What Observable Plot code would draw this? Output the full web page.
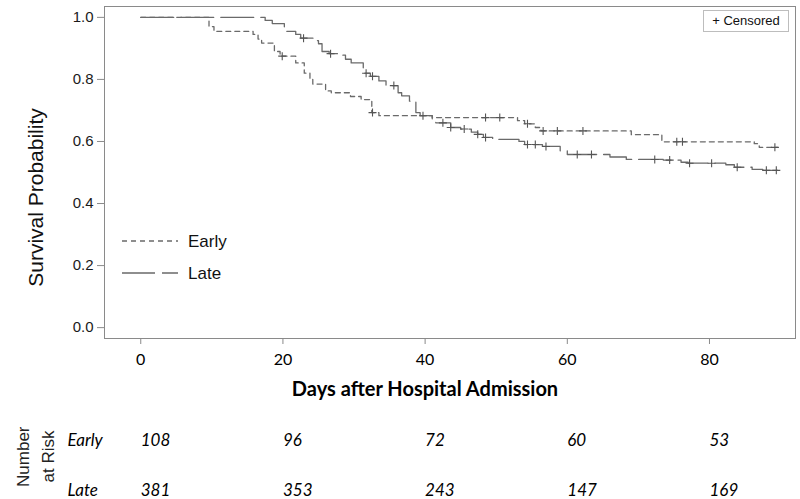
<!DOCTYPE html>
<html><head><meta charset="utf-8">
<script src="https://cdn.jsdelivr.net/npm/d3@7"></script>
<script src="https://cdn.jsdelivr.net/npm/@observablehq/plot@0.6"></script>
<style>
body{margin:0;background:#fff;}
#wrap{position:relative;width:800px;height:499px;overflow:hidden;background:#fff;}
#wrap svg{display:block;}
#cens{position:absolute;left:703px;top:10px;width:86px;height:22px;border:1px solid #bdbdbd;box-sizing:border-box;font:13px "Liberation Sans",Arial,sans-serif;color:#111;text-align:center;line-height:20px;}
#leg{position:absolute;left:118px;top:228px;}
</style></head><body><div id="wrap"></div>
<script>
// Kaplan–Meier step data (day, survival after event)
const earlyTime = [0, 9.6, 10.3, 15.8, 16.5, 17.0, 18.8, 19.6, 21.8, 23.0, 23.8, 24.2, 26.0, 26.8, 29.5, 31.0, 32.5, 33.5, 41.0, 53.0, 54.0, 55.5, 56.3, 69.0, 73.3, 86.3, 87.0, 89.6];
const earlySurv = [1.0, 0.97, 0.955, 0.945, 0.93, 0.917, 0.89, 0.875, 0.853, 0.82, 0.80, 0.785, 0.763, 0.757, 0.745, 0.735, 0.693, 0.683, 0.677, 0.667, 0.657, 0.645, 0.634, 0.622, 0.599, 0.593, 0.581, 0.581];
const lateTime = [0, 17.5, 18.5, 20.2, 21.8, 22.5, 24.5, 25.0, 25.5, 26.5, 27.8, 28.8, 29.6, 31.3, 32.3, 33.5, 34.5, 36.2, 36.7, 37.8, 38.7, 39.3, 41.0, 41.5, 43.6, 45.0, 46.5, 47.4, 48.2, 49.5, 53.2, 54.0, 56.5, 59.0, 60.0, 66.0, 68.3, 73.5, 76.0, 77.0, 82.3, 83.5, 86.0, 87.5, 89.6];
const lateSurv = [1.0, 0.99, 0.98, 0.955, 0.945, 0.933, 0.925, 0.915, 0.89, 0.883, 0.878, 0.865, 0.853, 0.82, 0.81, 0.795, 0.78, 0.757, 0.747, 0.73, 0.693, 0.683, 0.673, 0.66, 0.645, 0.64, 0.63, 0.623, 0.613, 0.607, 0.60, 0.59, 0.584, 0.57, 0.558, 0.55, 0.542, 0.54, 0.533, 0.53, 0.525, 0.517, 0.51, 0.507, 0.507];
// Censored observations
const earlyCensorTime = [19.9, 32.6, 48.5, 50.5, 54.4, 56.6, 58.6, 62.2, 75.4, 76.2, 89.2];
const earlyCensorSurv = [0.875, 0.693, 0.677, 0.677, 0.657, 0.634, 0.634, 0.634, 0.599, 0.599, 0.581];
const lateCensorTime = [22.9, 26.7, 31.7, 32.6, 35.6, 39.7, 42.5, 43.6, 45.5, 47.4, 48.5, 54.4, 55.5, 57.0, 61.4, 63.4, 72.3, 74.4, 77.2, 80.3, 83.9, 88.0, 89.4];
const lateCensorSurv = [0.933, 0.883, 0.82, 0.81, 0.78, 0.683, 0.66, 0.645, 0.64, 0.623, 0.613, 0.59, 0.59, 0.584, 0.558, 0.558, 0.542, 0.54, 0.53, 0.53, 0.517, 0.507, 0.507];
// Axes
const xTicks = [0, 20, 40, 60, 80];
const yTicks = [0, 0.2, 0.4, 0.6, 0.8, 1.0];
// Number at risk
const groups = ["Early", "Late"];
const riskTimes = [0, 20, 40, 60, 80];
const riskEarly = [108, 96, 72, 60, 53];
const riskLate = [381, 353, 243, 147, 169];

const early = earlyTime.map((t, i) => ({t, s: earlySurv[i]}));
const late = lateTime.map((t, i) => ({t, s: lateSurv[i]}));
const earlyC = earlyCensorTime.map((t, i) => ({t, s: earlyCensorSurv[i]}));
const lateC = lateCensorTime.map((t, i) => ({t, s: lateCensorSurv[i]}));
const risk = [
  ...riskTimes.map((t, i) => ({t, g: "Early", n: riskEarly[i]})),
  ...riskTimes.map((t, i) => ({t, g: "Late", n: riskLate[i]}))
];

const xDomain = [-5.1, 92.1];
const lineColor = "#6a6a6a";
const humanist = 'Lato,"Open Sans",sans-serif';
const arial = '"Liberation Sans",Arial,sans-serif';

const main = Plot.plot({
  width: 800, height: 415,
  marginLeft: 104, marginRight: 5, marginTop: 6, marginBottom: 77,
  x: {domain: xDomain},
  y: {domain: [-0.035, 1.035]},
  style: {fontFamily: humanist, fontSize: "16px", color: "#000", background: "#fff"},
  marks: [
    Plot.frame({stroke: "#8a8a8a"}),
    Plot.axisX({ticks: xTicks, tickSize: 6, tickPadding: 9, stroke: "#8a8a8a", label: null, fontSize: 16, fontFamily: humanist}),
    Plot.axisY({ticks: yTicks, tickSize: 7, tickPadding: 4, stroke: "#8a8a8a", tickFormat: d3.format(".1f"), label: null, fontSize: 15, fontFamily: arial, fill: "#1a1a1a"}),
    Plot.line(early, {x: "t", y: "s", curve: "step-after", stroke: lineColor, strokeWidth: 1.3, strokeDasharray: "5,4"}),
    Plot.line(late, {x: "t", y: "s", curve: "step-after", stroke: lineColor, strokeWidth: 1.3, strokeDasharray: "33,7"}),
    Plot.dot(earlyC, {x: "t", y: "s", symbol: "plus", r: 2.7, stroke: "#555", strokeWidth: 1.1}),
    Plot.dot(lateC, {x: "t", y: "s", symbol: "plus", r: 2.7, stroke: "#555", strokeWidth: 1.1}),
    Plot.text(["Days after Hospital Admission"], {frameAnchor: "bottom", dx: -25, dy: 57, textAnchor: "middle", fontWeight: "bold", fontSize: 20, fontFamily: humanist, fill: "#000"}),
    Plot.text(["Survival Probability"], {frameAnchor: "left", dx: -68, dy: 25, rotate: -90, textAnchor: "middle", fontSize: 21, fontFamily: arial, fill: "#111"})
  ]
});

const table = Plot.plot({
  width: 800, height: 84,
  marginLeft: 104, marginRight: 5, marginTop: 0, marginBottom: 0,
  x: {domain: xDomain, axis: null},
  y: {type: "point", domain: groups, range: [25, 75], padding: 0, axis: null},
  style: {fontFamily: humanist, fontSize: "16px", color: "#000", background: "#fff", overflow: "visible"},
  marks: [
    Plot.text(risk, {x: "t", y: "g", text: d => String(d.n), textAnchor: "start", fontStyle: "italic", fontSize: 17}),
    Plot.text(groups, {y: d => d, text: d => d, frameAnchor: "left", dx: -37, textAnchor: "start", fontStyle: "italic", fontSize: 17}),
    Plot.text(["Number"], {frameAnchor: "top-left", dx: -88, dy: 11, rotate: -90, textAnchor: "end", fontSize: 17, fontFamily: arial, fill: "#222"}),
    Plot.text(["at Risk"], {frameAnchor: "top-left", dx: -63, dy: 15, rotate: -90, textAnchor: "end", fontSize: 17, fontFamily: arial, fill: "#222"})
  ]
});

const wrap = document.getElementById("wrap");
wrap.appendChild(main);
wrap.appendChild(table);

const cens = document.createElement("div");
cens.id = "cens";
cens.textContent = "+ Censored";
wrap.appendChild(cens);

const leg = document.createElement("div");
leg.id = "leg";
leg.innerHTML = `<svg width="130" height="60" style="overflow:visible">
  <line x1="4" x2="60" y1="13" y2="13" stroke="${lineColor}" stroke-width="1.3" stroke-dasharray="5,4"/>
  <text x="70" y="19" font-family="Liberation Sans, Arial, sans-serif" font-size="17" fill="#111">Early</text>
  <line x1="4" x2="60" y1="45" y2="45" stroke="${lineColor}" stroke-width="1.3" stroke-dasharray="33,7"/>
  <text x="70" y="51" font-family="Liberation Sans, Arial, sans-serif" font-size="17" fill="#111">Late</text>
</svg>`;
wrap.appendChild(leg);
</script>
</body></html>
